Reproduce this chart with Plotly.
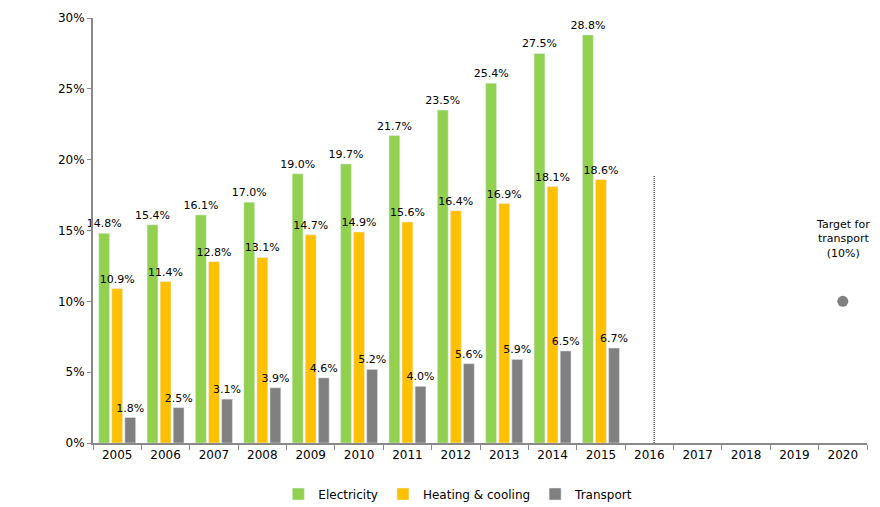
import plotly.graph_objects as go

years = [str(y) for y in range(2005, 2021)]
electricity = [14.8, 15.4, 16.1, 17.0, 19.0, 19.7, 21.7, 23.5, 25.4, 27.5, 28.8]
heating = [10.9, 11.4, 12.8, 13.1, 14.7, 14.9, 15.6, 16.4, 16.9, 18.1, 18.6]
transport = [1.8, 2.5, 3.1, 3.9, 4.6, 5.2, 4.0, 5.6, 5.9, 6.5, 6.7]
target_year = ["2020"]
target_value = [10]
y_ticks = [0, 5, 10, 15, 20, 25, 30]

FONT = "DejaVu Sans"

fig = go.Figure()
for name, vals, col in [("Electricity", electricity, "#92D050"),
                        ("Heating & cooling", heating, "#FFC000"),
                        ("Transport", transport, "#808080")]:
    fig.add_trace(go.Bar(
        x=years[:len(vals)], y=vals, name=name, marker_color=col,
        text=[f"{v:.1f}%" for v in vals],
        textposition="outside", constraintext="none", cliponaxis=False,
        textfont=dict(family=FONT, size=11, color="black"),
        hoverinfo="skip",
    ))

fig.add_trace(go.Scatter(
    x=target_year, y=target_value, mode="markers",
    marker=dict(color="#808080", size=11), showlegend=False, hoverinfo="skip",
))

fig.add_shape(type="line", xref="x", yref="y", x0=11.1, x1=11.1, y0=0, y1=18.9,
              line=dict(color="black", width=1, dash="1px,1px"))

fig.add_annotation(x=years.index(target_year[0]), y=12.8, xref="x", yref="y",
                   text="Target for<br>transport<br>(10%)", showarrow=False,
                   font=dict(family=FONT, size=11, color="black"),
                   yanchor="bottom", align="center")

# page body has an 8px margin, so the figure is 872x499 placed at (8, 8)
fig.update_layout(
    width=872, height=499,
    margin=dict(l=85, r=13, t=10, b=64, autoexpand=False),
    plot_bgcolor="white", paper_bgcolor="white",
    barmode="group", bargap=0.19, bargroupgap=0.17,
    font=dict(family=FONT, size=11, color="black"),
    showlegend=True,
    legend=dict(orientation="h", x=0.472, xanchor="center",
                yref="container", y=0.026, yanchor="middle",
                font=dict(family=FONT, size=12), traceorder="normal"),
    xaxis=dict(type="category", categoryorder="array", categoryarray=years,
               range=[-0.5, 15.5], automargin=False,
               showline=True, linecolor="#898989", linewidth=2,
               ticks="outside", tickson="boundaries", ticklen=5, tickcolor="#898989",
               tickfont=dict(family=FONT, size=12), showgrid=False),
    yaxis=dict(range=[0, 30], tickmode="array", tickvals=y_ticks,
               ticktext=[f"{v}%" for v in y_ticks], automargin=False,
               showline=True, linecolor="#898989", linewidth=2,
               ticks="outside", ticklen=4, tickcolor="#898989",
               tickfont=dict(family=FONT, size=12), showgrid=False, zeroline=False),
)

fig.write_html("out.html")
